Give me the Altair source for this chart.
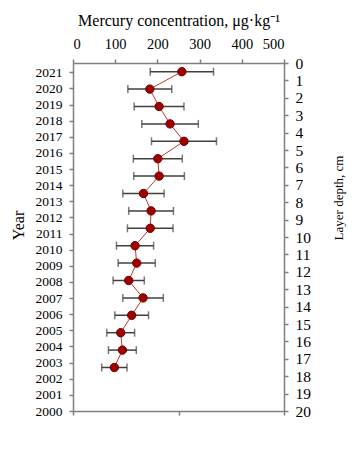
import altair as alt
import pandas as pd

# Data
depth_cm = [0.5, 1.5, 2.5, 3.5, 4.5, 5.5, 6.5, 7.5, 8.5, 9.5,
            10.5, 11.5, 12.5, 13.5, 14.5, 15.5, 16.5, 17.5]
mercury = [258, 182, 204, 230, 263, 201, 204, 167, 185, 183,
           147, 151, 132, 166, 139, 113, 117, 98]
err = [75, 52, 59, 67, 77, 58, 60, 49, 53, 54,
       44, 44, 37, 48, 40, 33, 33, 30]
year_ticks = list(range(2000, 2022))
depth_ticks = list(range(0, 21))
x_ticks = [0, 100, 200, 300, 400, 500]
x_bottom_ticks = [0, 250, 500]

df = pd.DataFrame({
    "depth": depth_cm,
    "hg": mercury,
    "lo": [m - e for m, e in zip(mercury, err)],
    "hi": [m + e for m, e in zip(mercury, err)],
})
years_df = pd.DataFrame({"year": year_ticks, "xv": [0] * len(year_ticks)})

FONT = "Liberation Serif"
AX = "#7f7f7f"

xscale = alt.Scale(domain=[0, 500], nice=False, zero=False)
yscale = alt.Scale(domain=[0, 20], reverse=True, nice=False, zero=False)

x_top_axis = alt.Axis(
    orient="top", values=x_ticks, title="Mercury concentration, μg·kg⁻¹",
    grid=False, tickSize=4, labelPadding=8,
    titleX=105.5, titleY=-43, titleBaseline="middle", titleAlign="center",
    labelFontSize=14.5, titleFontSize=16, labelFont=FONT, titleFont=FONT,
    titleFontWeight="normal", domainColor=AX, tickColor=AX,
    labelColor="black", titleColor="black", domainWidth=1.5, tickWidth=1.5,
)
x_bottom_axis = alt.Axis(
    orient="bottom", values=x_bottom_ticks, labels=False, title=None,
    grid=False, tickSize=4, domainColor=AX, tickColor=AX,
    domainWidth=1.5, tickWidth=1.5,
)
y_right_axis = alt.Axis(
    orient="right", values=depth_ticks, title="Layer depth, cm",
    grid=False, tickSize=4, labelPadding=7,
    labelFontSize=15.5, titleFontSize=13, labelFont=FONT, titleFont=FONT,
    titleFontWeight="normal", domainColor=AX, tickColor=AX,
    labelColor="black", titleColor="black",
    titleAngle=270, titleX=54, titleY=134.5, titleBaseline="middle", titleAlign="center",
    domainWidth=1.5, tickWidth=1.5, labelFlush=False, labelOverlap=False,
)
y_left_axis = alt.Axis(
    orient="left", values=year_ticks, title="Year", format="d",
    grid=False, tickSize=4, labelPadding=7,
    labelFontSize=13.5, titleFontSize=16, labelFont=FONT, titleFont=FONT,
    titleFontWeight="normal", domainColor=AX, tickColor=AX,
    labelColor="black", titleColor="black",
    titleAngle=270, titleX=-55, titleY=162, titleBaseline="middle", titleAlign="center",
    domainWidth=1.5, tickWidth=1.5, labelFlush=False, labelOverlap=False,
)

year_layer = alt.Chart(years_df).mark_point(opacity=0).encode(
    x=alt.X("xv:Q", scale=xscale, axis=x_bottom_axis),
    y=alt.Y("year:Q", scale=alt.Scale(domain=[2000, 2021.58], nice=False, zero=False),
            axis=y_left_axis),
)

base = alt.Chart(df)
bars = base.mark_rule(color="#404040", strokeWidth=1.5).encode(
    x=alt.X("lo:Q", scale=xscale, axis=x_top_axis),
    x2="hi:Q",
    y=alt.Y("depth:Q", scale=yscale, axis=y_right_axis),
)
cap_lo = base.mark_tick(orient="vertical", color="#404040", size=8, thickness=1.5).encode(
    x=alt.X("lo:Q", scale=xscale, axis=x_top_axis),
    y=alt.Y("depth:Q", scale=yscale, axis=y_right_axis),
)
cap_hi = base.mark_tick(orient="vertical", color="#404040", size=8, thickness=1.5).encode(
    x=alt.X("hi:Q", scale=xscale, axis=x_top_axis),
    y=alt.Y("depth:Q", scale=yscale, axis=y_right_axis),
)
line = base.mark_line(color="#c0392b", strokeWidth=1).encode(
    x=alt.X("hg:Q", scale=xscale, axis=x_top_axis),
    y=alt.Y("depth:Q", scale=yscale, axis=y_right_axis),
    order="depth:Q",
)
pts = base.mark_point(filled=True, shape="circle", size=70, fill="#a00000",
                      stroke="#6b0000", strokeWidth=1, opacity=1).encode(
    x=alt.X("hg:Q", scale=xscale, axis=x_top_axis),
    y=alt.Y("depth:Q", scale=yscale, axis=y_right_axis),
)

depth_layer = alt.layer(bars, cap_lo, cap_hi, line, pts)

chart = alt.layer(year_layer, depth_layer).resolve_scale(
    y="independent"
).resolve_axis(
    x="independent", y="independent"
).properties(
    width=211, height=348,
    autosize=alt.AutoSizeParams(type="none"),
    padding={"left": 65, "top": 55, "right": 68, "bottom": 35},
).configure_view(stroke=None).configure_axis(
    labelFont=FONT, titleFont=FONT, titleFontWeight="normal"
).configure(background="white", font=FONT)

chart.save("out.html", embed_options={"renderer": "svg", "actions": False})
